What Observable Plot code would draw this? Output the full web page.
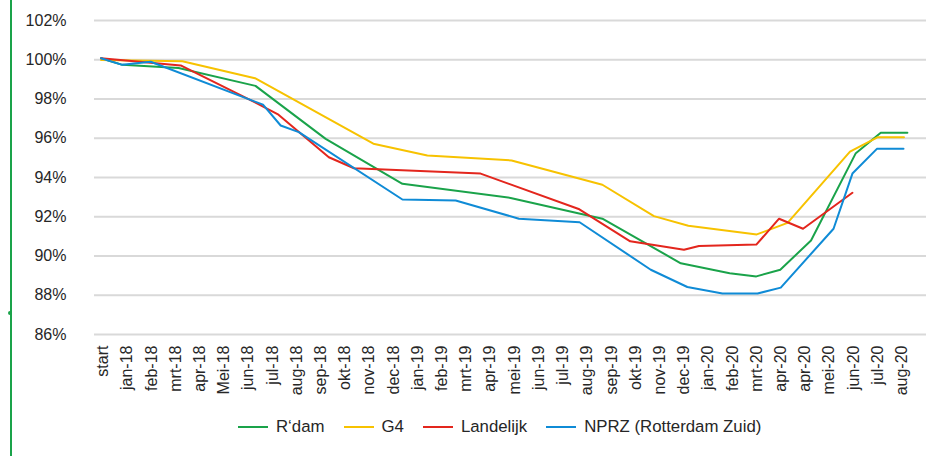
<!DOCTYPE html>
<html>
<head>
<meta charset="utf-8">
<script src="https://cdn.jsdelivr.net/npm/d3@7"></script>
<script src="https://cdn.jsdelivr.net/npm/@observablehq/plot@0.6"></script>
<style>
  html, body { margin: 0; padding: 0; background: #fff; }
  body { width: 926px; height: 456px; position: relative; overflow: hidden;
         font-family: "Liberation Sans", Arial, sans-serif; color: #262626; }
  #border { position: absolute; left: 10px; top: 0; width: 2px; height: 456px; background: #1aa34a; }
  #dot { position: absolute; left: 8px; top: 311px; width: 4px; height: 4px; border-radius: 50%; background: #1aa34a; }
  #chart { position: absolute; left: 0; top: 0; }
  #legend { position: absolute; left: 238px; top: 417px; display: flex; align-items: center;
            font-size: 16.8px; line-height: 20px; white-space: nowrap; }
  .item { display: flex; align-items: center; margin-right: 19px; }
  .sw { width: 30px; height: 2px; margin-right: 8px; }
</style>
</head>
<body>
<div id="border"></div>
<div id="dot"></div>
<div id="chart"></div>
<div id="legend"></div>
<script>
// Category labels (x axis), index 0..33
const categories = ["start","jan-18","feb-18","mrt-18","apr-18","Mei-18","jun-18","jul-18","aug-18","sep-18",
  "okt-18","nov-18","dec-18","jan-19","feb-19","mrt-19","apr-19","mei-19","jun-19","jul-19","aug-19",
  "sep-19","okt-19","nov-19","dec-19","jan-20","feb-20","mrt-20","apr-20","apr-20","mei-20","jun-20",
  "jul-20","aug-20"];
const yTicks = [86, 88, 90, 92, 94, 96, 98, 100, 102];

const seriesNames = ["R‘dam", "G4", "Landelijk", "NPRZ (Rotterdam Zuid)"];
const seriesColors = ["#1aa34a", "#f7c200", "#e3261d", "#0f8bd6"];

// Positions (in category index units) and values (%)
const rdamPos = [0, 0.88, 3.2, 6.38, 9.28, 12.45, 16.92, 20.71, 23.95, 25.97, 27.07, 28.06, 29.33, 31.18, 32.21, 33.31];
const rdamVal = [100.08, 99.74, 99.58, 98.67, 95.97, 93.68, 92.96, 91.9, 89.63, 89.12, 88.96, 89.3, 90.79, 95.24, 96.28, 96.28];

const g4Pos = [0, 3.36, 6.36, 11.25, 13.48, 16.96, 20.71, 22.84, 24.26, 27.09, 28.36, 30.94, 32.07, 33.17];
const g4Val = [99.99, 99.92, 99.06, 95.72, 95.12, 94.87, 93.63, 92.03, 91.54, 91.1, 91.69, 95.32, 96.05, 96.05];

const landPos = [0, 3.29, 6.34, 7.33, 9.41, 10.45, 15.68, 19.76, 21.86, 24.08, 24.7, 27.07, 28.01, 29.0, 31.04];
const landVal = [100.08, 99.71, 97.84, 97.2, 95.03, 94.47, 94.2, 92.38, 90.75, 90.32, 90.51, 90.58, 91.9, 91.39, 93.22];

const nprzPos = [0, 0.88, 2.05, 6.69, 7.42, 8.17, 12.45, 14.65, 17.26, 19.77, 22.71, 24.22, 25.67, 27.12, 28.08, 30.26, 31.04, 32.05, 33.15];
const nprzVal = [100.08, 99.74, 99.9, 97.71, 96.65, 96.31, 92.88, 92.83, 91.9, 91.72, 89.3, 88.42, 88.09, 88.09, 88.39, 91.39, 94.2, 95.46, 95.46];

const allPos = [rdamPos, g4Pos, landPos, nprzPos];
const allVal = [rdamVal, g4Val, landVal, nprzVal];

const rows = [];
allPos.forEach((p, s) => p.forEach((x, k) => rows.push({series: seriesNames[s], pos: x, val: allVal[s][k]})));

const idx = categories.map((_, i) => i);

const chart = Plot.plot({
  width: 926,
  height: 405,
  marginLeft: 94,
  marginRight: 0,
  marginTop: 20,
  marginBottom: 71,
  style: { fontFamily: "'Liberation Sans', Arial, sans-serif", fontSize: "16px", color: "#262626", background: "transparent" },
  x: { type: "linear", domain: [-0.27, 34.1] },
  y: { domain: [86, 102] },
  marks: [
    Plot.ruleY(yTicks, { stroke: "#d9d9d9", strokeWidth: 2 }),
    Plot.axisY({ ticks: yTicks, tickFormat: d => d + "%", tickSize: 0, tickPadding: 28, label: null, fontSize: 16 }),
    Plot.axisX({ ticks: idx, tickFormat: i => categories[i], tickSize: 0, tickPadding: 11, tickRotate: -90, label: null, fontSize: 16, dx: 2 }),
    ...seriesNames.map((name, s) =>
      Plot.line(rows.filter(r => r.series === name), { x: "pos", y: "val", stroke: seriesColors[s], strokeWidth: 2 }))
  ]
});
document.getElementById("chart").appendChild(chart);

const legend = document.getElementById("legend");
seriesNames.forEach((name, s) => {
  const it = document.createElement("div");
  it.className = "item";
  const sw = document.createElement("div");
  sw.className = "sw";
  sw.style.background = seriesColors[s];
  const tx = document.createElement("span");
  tx.textContent = name;
  it.appendChild(sw); it.appendChild(tx);
  legend.appendChild(it);
});
</script>
</body>
</html>
